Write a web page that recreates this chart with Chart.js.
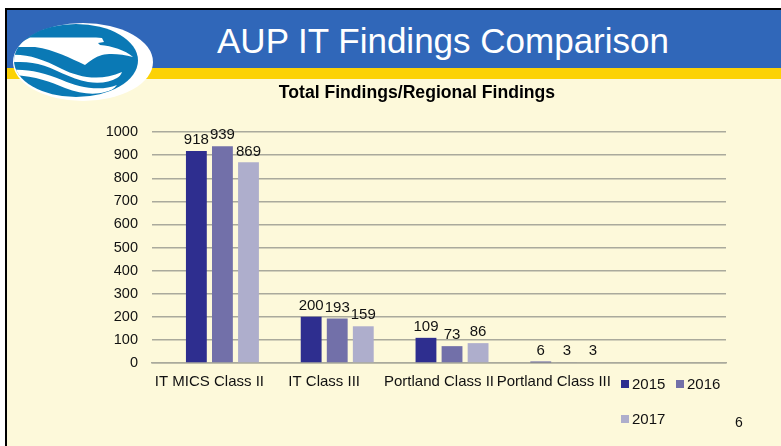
<!DOCTYPE html>
<html><head><meta charset="utf-8">
<style>
html,body{margin:0;padding:0;background:#fff;width:781px;height:446px;overflow:hidden;font-family:"Liberation Sans",Arial,sans-serif}
#frame{position:absolute;left:5px;top:8px;width:776px;height:438px;background:#FDF9DA;border-left:2px solid #000;border-top:2px solid #000;box-sizing:border-box}
#blue{position:absolute;left:7px;top:10px;width:774px;height:58px;background:#3067B9}
#yellow{position:absolute;left:7px;top:68px;width:774px;height:11px;background:#FCD205}
#head{position:absolute;left:105px;width:676px;top:18px;text-align:center;color:#fff;font-size:35px;line-height:46px;white-space:nowrap}
#logo{position:absolute;left:0;top:0}
#chartBox{position:absolute;left:0;top:0;width:781px;height:446px}
</style></head><body>
<div id="frame"></div><div id="blue"></div><div id="yellow"></div>
<svg id="logo" width="160" height="110" viewBox="0 0 160 110">
<defs><clipPath id="cp"><ellipse cx="76" cy="60.5" rx="62" ry="36.5"/></clipPath></defs>
<ellipse cx="83" cy="62" rx="70" ry="39" fill="#fff"/>
<ellipse cx="76" cy="60.5" rx="62" ry="36.5" fill="#0A79B5"/>
<g clip-path="url(#cp)" fill="#fff">
<path d="M14 47 C20 43 25 40 30 37.5 L96 37.5 L102 38 L104 42 L98 43 L100 45 C112 46 125 50 133 57 C122 54 110 53 102 55 C95 57 90 61 85 65 C70 58 55 50 35 47 Z"/>
<path d="M10 55 C28 54 42 59 62 69 C78 77 100 82 122 72 C121 75 119 77 117 78 C110 82 100 84 88 82 C70 79 55 68 38 64 C30 62 20 62 10 62 Z"/>
<path d="M12 70 C28 69 45 73 62 80 C78 87 100 92 117 85 C114 89 110 91 105 92 C95 95 80 94 65 88 C50 82 35 76 12 75 Z"/>
</g>
</svg>
<div id="head">AUP IT Findings Comparison</div>
<div id="chartBox"><canvas id="c" width="781" height="446"></canvas></div>
<script src="https://cdn.jsdelivr.net/npm/chart.js@4"></script>
<script>
const categories = ["IT MICS Class II","IT Class III","Portland Class II","Portland Class III",""];
const seriesNames = ["2015","2016","2017"];
const values2015 = [918,200,109,6,null];
const values2016 = [939,193,73,3,null];
const values2017 = [869,159,86,3,null];
const spacerValues = [null,null,null,null,null];
const seriesColors = ["#2E2E8F","#7270A9","#AEAECC"];
const chartTitle = "Total Findings/Regional Findings";
const pageNumber = "6";
const FONT = '"Liberation Sans", Arial, sans-serif';

const overlay = {
  id:'overlay',
  afterLayout(chart){
    const t = chart.titleBlock;
    if(t){ t.left = 53; t.right = 781; }
  },
  afterDatasetsDraw(chart){
    const ctx = chart.ctx;
    ctx.save();
    ctx.fillStyle = '#111';
    ctx.font = '15px '+FONT;
    ctx.textAlign = 'center';
    ctx.textBaseline = 'middle';
    chart.data.datasets.forEach((ds,i)=>{
      if(i===0) return;
      chart.getDatasetMeta(i).data.forEach((bar,j)=>{
        if(ds.data[j]==null) return;
        ctx.fillText(String(ds.data[j]), bar.x, bar.y-11);
      });
    });
    // legend
    ctx.textAlign='left';
    const pos=[[621,384],[676,384],[621,419]];
    seriesNames.forEach((n,i)=>{
      ctx.fillStyle=seriesColors[i];
      ctx.fillRect(pos[i][0],pos[i][1]-4,8,8);
      ctx.fillStyle='#111';
      ctx.fillText(n,pos[i][0]+11,pos[i][1]+1);
    });
    ctx.font='14px '+FONT;
    ctx.textAlign='center';
    ctx.fillText(pageNumber,739,423);
    ctx.restore();
  }
};

new Chart(document.getElementById('c'),{
  type:'bar',
  data:{labels:categories,datasets:[
    {label:'',data:spacerValues,backgroundColor:'transparent'},
    {label:seriesNames[0],data:values2015,backgroundColor:seriesColors[0]},
    {label:seriesNames[1],data:values2016,backgroundColor:seriesColors[1]},
    {label:seriesNames[2],data:values2017,backgroundColor:seriesColors[2]}
  ]},
  options:{
    responsive:false,animation:false,
    layout:{padding:{left:0,right:55,top:0,bottom:0}},
    datasets:{bar:{categoryPercentage:0.908,barPercentage:0.8}},
    plugins:{
      legend:{display:false},
      tooltip:{enabled:false},
      title:{display:true,text:chartTitle,color:'#000',font:{family:FONT,size:17.6,weight:'bold'},padding:{top:83,bottom:28}}
    },
    scales:{
      x:{
        grid:{display:false},
        border:{color:'#AAAA9C',width:1.5},
        ticks:{color:'#111',font:{family:FONT,size:15},autoSkip:false,maxRotation:0,minRotation:0,padding:2},
        afterFit(s){s.height=83;}
      },
      y:{
        min:0,max:1000,
        grid:{color:'#AAAA9C',lineWidth:1.5,drawTicks:false},
        border:{display:false},
        ticks:{stepSize:100,color:'#111',font:{family:FONT,size:14.5},padding:14,callback:v=>String(v)},
        afterFit(s){s.width=152;}
      }
    }
  },
  plugins:[overlay]
});
</script>
</body></html>
